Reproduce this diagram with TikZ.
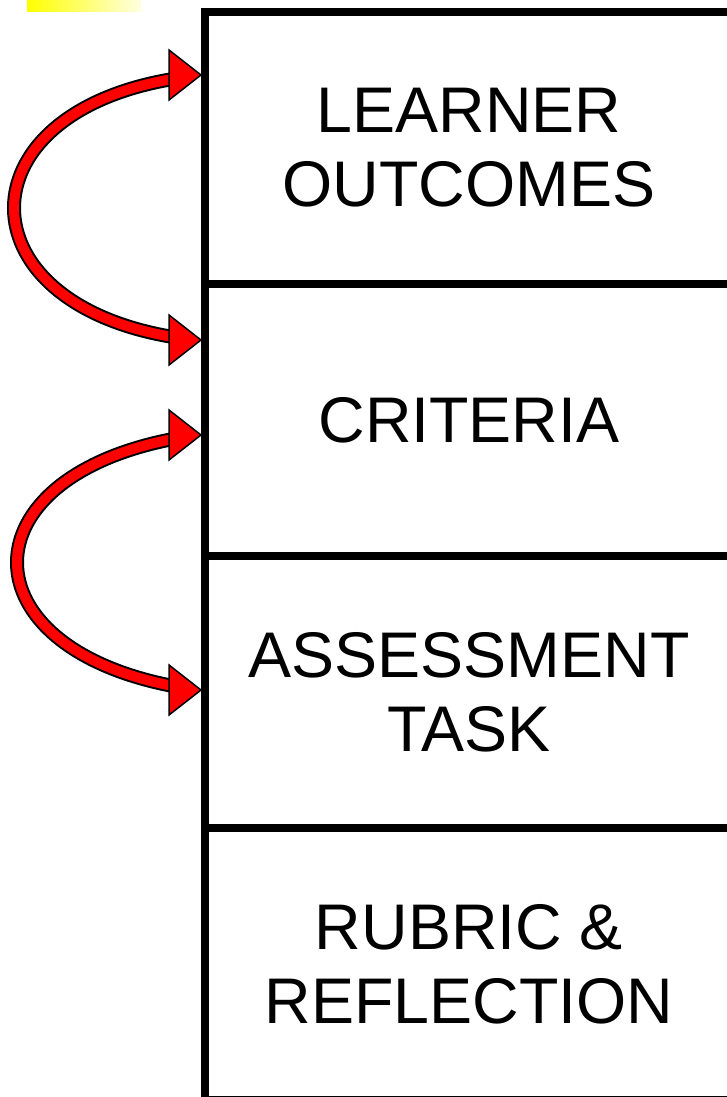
\documentclass[tikz,border=0pt]{standalone}
\usepackage{fontspec}
\setmainfont{Liberation Sans}
\begin{document}
\begin{tikzpicture}[x=1pt,y=-1pt,
  stage/.style={draw,line width=8pt,minimum width=528pt,minimum height=272pt,
    align=center,font=\fontsize{64.5}{74}\selectfont},
  bandout/.style={line width=14pt,draw=black},
  bandin/.style={line width=10pt,draw=red},
  headtip/.style={fill=red,draw=black,line width=1.5pt}]
\useasboundingbox (0,0) rectangle (727,1097);
\shade[left color=yellow,right color=yellow!12] (27,0) rectangle (141,12);
% the four stages
\node[stage] (lo) at (469,148) {LEARNER\\OUTCOMES};
\node[stage] (crit) at (469,420) {CRITERIA};
\node[stage] (task) at (469,692) {ASSESSMENT\\TASK};
\node[stage] (rub) at (469,964) {RUBRIC \&\\REFLECTION};
% arrow ends on the left edge
\coordinate (t1) at (lo.west |- 0,75);
\coordinate (t2) at (crit.west |- 0,340);
\coordinate (t3) at (crit.west |- 0,435);
\coordinate (t4) at (task.west |- 0,690);
% curved double arrows
\draw[bandout] ([xshift=-28pt,yshift=-4pt]t1) .. controls +(-212,35) and +(-212,-35) .. ([xshift=-28pt,yshift=3pt]t2);
\draw[bandin] ([xshift=-28pt,yshift=-4pt]t1) .. controls +(-212,35) and +(-212,-35) .. ([xshift=-28pt,yshift=3pt]t2);
\draw[bandout] ([xshift=-28pt,yshift=-4pt]t3) .. controls +(-208,40) and +(-208,-40) .. ([xshift=-28pt,yshift=4pt]t4);
\draw[bandin] ([xshift=-28pt,yshift=-4pt]t3) .. controls +(-208,40) and +(-208,-40) .. ([xshift=-28pt,yshift=4pt]t4);
\draw[headtip] (t1) -- ++(-32,-25) -- ++(0,50) -- cycle;
\draw[headtip] (t2) -- ++(-32,-25) -- ++(0,50) -- cycle;
\draw[headtip] (t3) -- ++(-32,-25) -- ++(0,50) -- cycle;
\draw[headtip] (t4) -- ++(-32,-25) -- ++(0,50) -- cycle;
\end{tikzpicture}
\end{document}
